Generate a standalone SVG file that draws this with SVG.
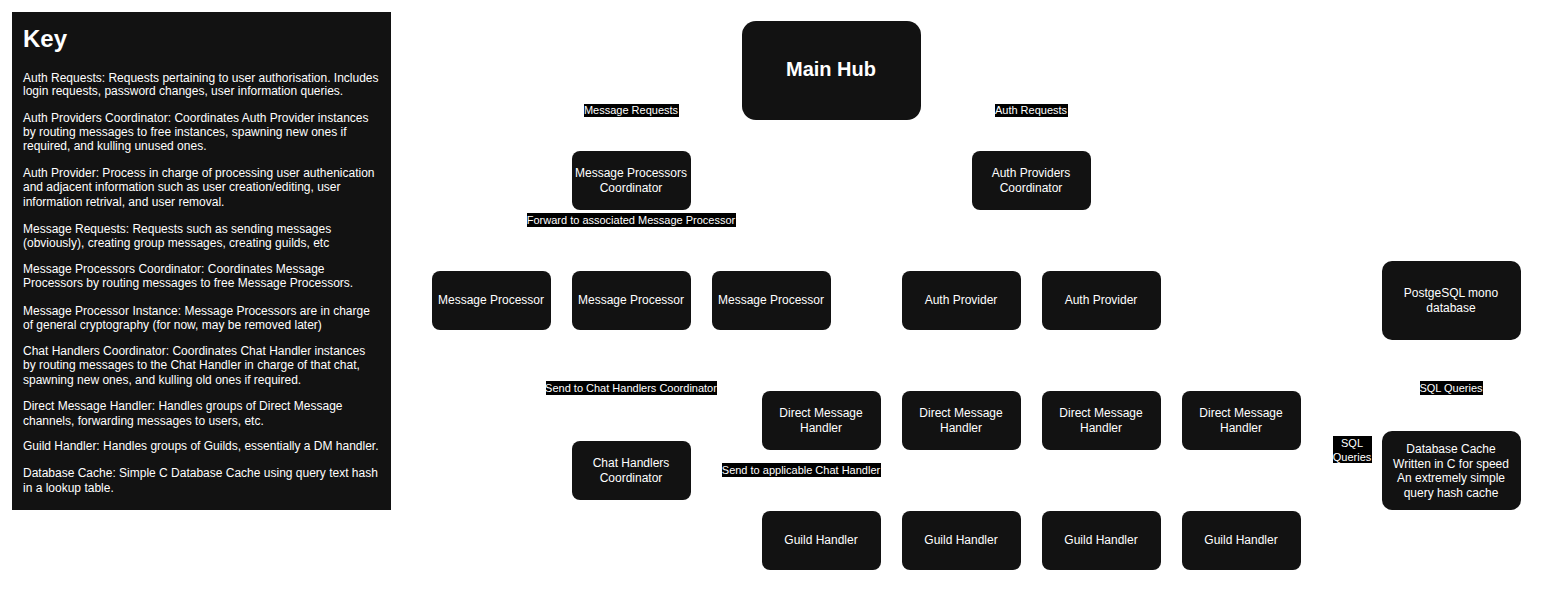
<svg xmlns="http://www.w3.org/2000/svg" width="1543" height="603" viewBox="0 0 1543 603">
<style>
text{font-family:"Liberation Sans",Arial,sans-serif;fill:#ffffff}
.n rect{fill:#121212}
.n text{font-size:12px;text-anchor:middle}
.key text{font-size:12px}
.lbl rect{fill:#000000}
.lbl text{font-size:11px;text-anchor:middle}
.c path{fill:none;stroke:#ffffff;stroke-width:1}
</style>
<defs>
<marker id="ah" viewBox="0 0 10 10" refX="9" refY="5" markerWidth="6" markerHeight="6" orient="auto"><path d="M0,0 L10,5 L0,10 z" fill="#ffffff"/></marker>
</defs>
<rect width="1543" height="603" fill="#ffffff"/>

<g id="key" class="key">
<rect x="12" y="12" width="379" height="498" fill="#121212"/>
<text x="23" y="47" style="font-size:24px;font-weight:bold">Key</text>
<text x="23" y="82">Auth Requests: Requests pertaining to user authorisation. Includes</text>
<text x="23" y="95">login requests, password changes, user information queries.</text>
<text x="23" y="122">Auth Providers Coordinator: Coordinates Auth Provider instances</text>
<text x="23" y="136">by routing messages to free instances, spawning new ones if</text>
<text x="23" y="150">required, and kulling unused ones.</text>
<text x="23" y="177">Auth Provider: Process in charge of processing user authenication</text>
<text x="23" y="191">and adjacent information such as user creation/editing, user</text>
<text x="23" y="206">information retrival, and user removal.</text>
<text x="23" y="233">Message Requests: Requests such as sending messages</text>
<text x="23" y="247">(obviously), creating group messages, creating guilds, etc</text>
<text x="23" y="273">Message Processors Coordinator: Coordinates Message</text>
<text x="23" y="287">Processors by routing messages to free Message Processors.</text>
<text x="23" y="315">Message Processor Instance: Message Processors are in charge</text>
<text x="23" y="329">of general cryptography (for now, may be removed later)</text>
<text x="23" y="355">Chat Handlers Coordinator: Coordinates Chat Handler instances</text>
<text x="23" y="369">by routing messages to the Chat Handler in charge of that chat,</text>
<text x="23" y="384">spawning new ones, and kulling old ones if required.</text>
<text x="23" y="410">Direct Message Handler: Handles groups of Direct Message</text>
<text x="23" y="425">channels, forwarding messages to users, etc.</text>
<text x="23" y="450">Guild Handler: Handles groups of Guilds, essentially a DM handler.</text>
<text x="23" y="477">Database Cache: Simple C Database Cache using query text hash</text>
<text x="23" y="492">in a lookup table.</text>
</g>

<g id="connectors" class="c">
<path d="M742,70 L631,70 L631,151" marker-end="url(#ah)"/>
<path d="M921,70 L1031,70 L1031,151" marker-end="url(#ah)"/>
<path d="M631,210 L631,240 L491,240 L491,271" marker-end="url(#ah)"/>
<path d="M631,210 L631,271" marker-end="url(#ah)"/>
<path d="M631,210 L631,240 L771,240 L771,271" marker-end="url(#ah)"/>
<path d="M1031,210 L1031,240 L961,240 L961,271" marker-end="url(#ah)"/>
<path d="M1031,210 L1031,240 L1101,240 L1101,271" marker-end="url(#ah)"/>
<path d="M631,330 L631,441" marker-end="url(#ah)"/>
<path d="M691,470 L741,470 L741,420 L762,420" marker-end="url(#ah)"/>
<path d="M741,470 L741,540 L762,540" marker-end="url(#ah)"/>
<path d="M1451,431 L1451,340" marker-end="url(#ah)"/>
<path d="M1301,450 L1382,450" marker-end="url(#ah)"/>
</g>

<g id="labels" class="lbl">
<g id="lbl-msgreq"><rect x="584" y="104" width="95" height="13"/><text x="631" y="114">Message Requests</text></g>
<g id="lbl-authreq"><rect x="995" y="104" width="73" height="13"/><text x="1031" y="114">Auth Requests</text></g>
<g id="lbl-forward"><rect x="527" y="213" width="209" height="14"/><text x="631" y="224">Forward to associated Message Processor</text></g>
<g id="lbl-sendchc"><rect x="546" y="381" width="171" height="14"/><text x="631" y="392">Send to Chat Handlers Coordinator</text></g>
<g id="lbl-sendch"><rect x="722" y="463" width="159" height="14"/><text x="801" y="474">Send to applicable Chat Handler</text></g>
<g id="lbl-sql1"><rect x="1420" y="381" width="63" height="14"/><text x="1451" y="392">SQL Queries</text></g>
<g id="lbl-sql2"><rect x="1333" y="436" width="39" height="27"/><text x="1352" y="447">SQL</text><text x="1352" y="461">Queries</text></g>
</g>

<g id="main-hub" class="n"><rect x="742" y="21" width="179" height="99" rx="14"/><text x="831" y="76" style="font-size:20px;font-weight:bold">Main Hub</text></g>
<g id="mpc" class="n"><rect x="572" y="151" width="119" height="59" rx="8"/><text x="631" y="177">Message Processors</text><text x="631" y="192">Coordinator</text></g>
<g id="apc" class="n"><rect x="972" y="151" width="119" height="59" rx="8"/><text x="1031" y="177">Auth Providers</text><text x="1031" y="192">Coordinator</text></g>
<g id="mp1" class="n"><rect x="432" y="271" width="119" height="59" rx="8"/><text x="491" y="304">Message Processor</text></g>
<g id="mp2" class="n"><rect x="572" y="271" width="119" height="59" rx="8"/><text x="631" y="304">Message Processor</text></g>
<g id="mp3" class="n"><rect x="712" y="271" width="119" height="59" rx="8"/><text x="771" y="304">Message Processor</text></g>
<g id="ap1" class="n"><rect x="902" y="271" width="119" height="59" rx="8"/><text x="961" y="304">Auth Provider</text></g>
<g id="ap2" class="n"><rect x="1042" y="271" width="119" height="59" rx="8"/><text x="1101" y="304">Auth Provider</text></g>
<g id="pg" class="n"><rect x="1382" y="261" width="139" height="79" rx="10"/><text x="1451" y="297">PostgeSQL mono</text><text x="1451" y="312">database</text></g>
<g id="dmh1" class="n"><rect x="762" y="391" width="119" height="59" rx="8"/><text x="821" y="417">Direct Message</text><text x="821" y="432">Handler</text></g>
<g id="dmh2" class="n"><rect x="902" y="391" width="119" height="59" rx="8"/><text x="961" y="417">Direct Message</text><text x="961" y="432">Handler</text></g>
<g id="dmh3" class="n"><rect x="1042" y="391" width="119" height="59" rx="8"/><text x="1101" y="417">Direct Message</text><text x="1101" y="432">Handler</text></g>
<g id="dmh4" class="n"><rect x="1182" y="391" width="119" height="59" rx="8"/><text x="1241" y="417">Direct Message</text><text x="1241" y="432">Handler</text></g>
<g id="chc" class="n"><rect x="572" y="441" width="119" height="59" rx="8"/><text x="631" y="467">Chat Handlers</text><text x="631" y="482">Coordinator</text></g>
<g id="cache" class="n"><rect x="1382" y="431" width="139" height="79" rx="10"/><text x="1451" y="453">Database Cache</text><text x="1451" y="468">Written in C for speed</text><text x="1451" y="482">An extremely simple</text><text x="1451" y="497">query hash cache</text></g>
<g id="gh1" class="n"><rect x="762" y="511" width="119" height="59" rx="8"/><text x="821" y="544">Guild Handler</text></g>
<g id="gh2" class="n"><rect x="902" y="511" width="119" height="59" rx="8"/><text x="961" y="544">Guild Handler</text></g>
<g id="gh3" class="n"><rect x="1042" y="511" width="119" height="59" rx="8"/><text x="1101" y="544">Guild Handler</text></g>
<g id="gh4" class="n"><rect x="1182" y="511" width="119" height="59" rx="8"/><text x="1241" y="544">Guild Handler</text></g>
</svg>
